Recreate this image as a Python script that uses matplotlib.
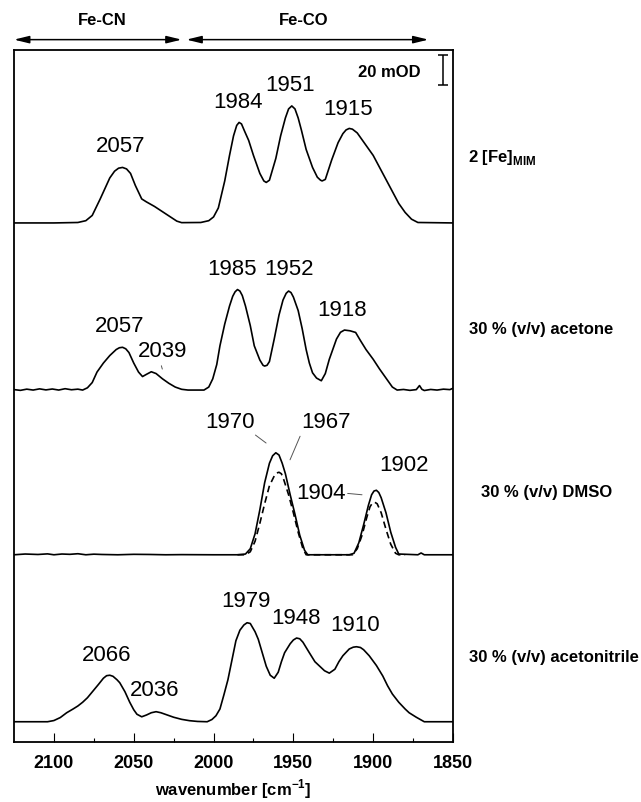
import matplotlib
matplotlib.use("Agg")
import matplotlib.pyplot as plt
import numpy as np

plt.rcParams['font.family'] = ['Liberation Sans', 'DejaVu Sans']
plt.rcParams['mathtext.fontset'] = 'custom'
plt.rcParams['mathtext.rm'] = 'Liberation Sans'
plt.rcParams['mathtext.bf'] = 'Liberation Sans:bold'

# --- spectra: wavenumber [cm-1], absorbance [mOD] ---
mim_wn = [2125, 2100, 2085, 2080, 2076, 2071, 2065, 2062, 2059.5, 2057, 2054.5, 2052, 2049,
          2045, 2042, 2037, 2032, 2027, 2023, 2020, 2008, 2003, 2000, 1997, 1993, 1990,
          1987.5, 1985.5, 1984, 1982.5, 1980.5, 1978, 1975, 1971, 1968.5, 1967, 1965, 1961,
          1958, 1955, 1953, 1951, 1949, 1947, 1945, 1942, 1938, 1935, 1933, 1932, 1930,
          1926, 1922, 1919, 1917, 1915, 1913, 1910, 1908, 1904, 1900, 1896, 1892, 1888,
          1884, 1880, 1876, 1872, 1850]
mim_od = [0, 0, 0.3, 1.5, 5, 16, 30, 34.5, 36.5, 37, 36, 33, 25,
          16, 14, 11, 7.5, 4, 1.2, 0.2, 0.3, 1.5, 4, 10, 28, 45,
          58, 65, 67, 66, 61, 55, 45, 33, 28, 27, 28.5, 43,
          58, 70, 76, 78, 76, 70, 62, 49, 37, 30.5, 28.5, 28, 29,
          42, 53.5, 59.5, 62, 63, 62.5, 60, 57, 51, 45, 37,
          29, 21, 13, 7, 2.5, 0.3, 0]

acetone_wn = [2125, 2121, 2117, 2113, 2109, 2105, 2101, 2097, 2093, 2089, 2085, 2082, 2079,
              2076, 2073, 2069, 2065, 2061, 2059, 2057, 2055, 2053, 2050, 2047, 2044.5,
              2042, 2039, 2036, 2032, 2028, 2024, 2020, 2016, 2006, 2003, 2000.5, 1998,
              1996, 1993, 1990, 1988, 1986.5, 1985, 1983.5, 1982, 1980, 1977, 1974.5, 1971,
              1969, 1968, 1966.5, 1965, 1962, 1959, 1956.5, 1954.5, 1953, 1951.5, 1950,
              1947, 1944.5, 1942, 1940, 1938, 1935.5, 1932.5, 1930, 1927.5, 1925, 1923,
              1920.5, 1918, 1914.5, 1911, 1908, 1904.5, 1900, 1896, 1892, 1888, 1885, 1881,
              1877, 1873, 1871, 1869.5, 1868, 1864, 1860, 1856, 1852, 1850]
acetone_od = [0.3, -0.2, 0.6, 0.0, 0.8, 0.1, 0.7, 0.0, 0.9, 0.2, 0.6, 0.0, 1.5,
              5, 12, 18, 23, 27, 28.2, 28.5, 27.5, 25, 18, 12, 9,
              10.5, 12.2, 11, 7.5, 4.5, 2, 0.5, 0, 0, 2, 7.5, 17,
              29.5, 44, 56, 62.5, 65.5, 67, 66, 63, 56, 43, 29.5, 20,
              16.5, 16, 16.5, 19, 34, 50, 60, 64.5, 66, 65, 62,
              53, 41, 27, 18, 11.5, 8, 6.2, 11, 20.5, 28, 34,
              38.5, 40, 39.5, 38.4, 33, 27, 20.5, 14, 8, 2, 0, 0.4,
              -0.2, 0.3, 3, 0.5, -0.3, 0.4, 0, 0.6, 0.3, 1.2]

dmso_wn = [2125, 2118, 2110, 2104, 2100, 2095, 2090, 2085, 2080, 2075, 2070, 2060, 2050,
           2040, 2030, 2020, 2000, 1985, 1980, 1977, 1974, 1971, 1968, 1965, 1963, 1961,
           1959, 1957, 1955, 1952, 1949, 1946, 1943, 1941, 1915, 1912, 1909, 1906, 1903,
           1901, 1899.5, 1898, 1896.5, 1895, 1892, 1889, 1886, 1884, 1872, 1870, 1868, 1850]
dmso_od = [0, 0.5, 0.2, 0.6, 0, 0.5, 0.3, 0.7, 0, 0.4, 0.2, 0, 0.3,
           0.2, 0, 0.1, 0, 0, 0.5, 4, 14, 30, 48, 61, 66, 68,
           66.5, 61, 54, 40, 27, 13, 3, 0, 0, 1, 8, 20, 33,
           40, 42.5, 43, 41.5, 38, 28, 15, 5, 0.5, 0, 1.2, 0, 0]

# dashed DMSO trace
dmso2_wn = [1985, 1980, 1977, 1974, 1971, 1968, 1965, 1962, 1960.5, 1959, 1957.5, 1956, 1953,
            1950, 1947, 1944, 1942, 1913, 1910, 1907, 1904, 1902, 1900.5, 1899, 1897.5, 1895,
            1892, 1889, 1886, 1884, 1880]
dmso2_od = [0, 0, 2, 9, 21, 34, 46, 52.5, 54.5, 55, 54, 50, 40,
            28, 15, 4, 0, 0, 4, 13, 25, 32, 34.5, 35, 34, 28,
            17, 7, 1, 0, 0]

acn_wn = [2125, 2104, 2100, 2096, 2092, 2088, 2085, 2082, 2079, 2075.5, 2072, 2069, 2067,
          2065, 2063, 2060.5, 2058.75, 2055.5, 2052.5, 2050, 2048, 2045, 2042, 2039, 2036,
          2033, 2029, 2025, 2020, 2015, 2010, 2004, 2001, 1998.5, 1996, 1993.5, 1991,
          1988.5, 1986, 1983.5, 1981, 1979, 1977, 1974, 1972, 1969.5, 1967, 1964.5, 1962,
          1959.5, 1957.5, 1955.5, 1952, 1950, 1948, 1946, 1944, 1940, 1936.5, 1933.5,
          1930.5, 1927.5, 1924, 1921.5, 1919, 1915, 1912.5, 1910.5, 1908, 1906, 1902.5,
          1898, 1894, 1891, 1888, 1884, 1880, 1877.5, 1873, 1868, 1850]
acn_od = [0, 0, 0.8, 2.8, 6, 8.5, 10.5, 13, 16, 20.5, 25, 29, 30.7,
          31, 30.3, 28, 26, 20, 13, 8, 5, 3.3, 4.5, 6, 6.7,
          6, 4.5, 3, 1.6, 0.7, 0.2, 0, 1.5, 4, 8.5, 18, 28,
          41, 54, 61, 64.5, 66, 65.5, 60, 55, 46, 37, 31, 29,
          33, 40, 46, 52, 54.5, 55.8, 55.3, 53, 46, 40, 37,
          34, 32.4, 35, 40, 44, 48.5, 49.7, 50, 49.5, 48, 44,
          37.5, 30.5, 24, 18.5, 13, 8.5, 6, 3, 0, 0]

offsets = [332.5, 221.1, 111.3, 0]   # vertical stacking, mOD
sample_labels = [r'2 [Fe]$_{\mathbf{MIM}}$', '30 % (v/v) acetone',
                 '30 % (v/v) DMSO', '30 % (v/v) acetonitrile']
label_x = [1.034, 1.036, 1.064, 1.036]
label_y = [44, 40.7, 42.5, 43.8]

fig = plt.figure(figsize=(6.41, 8.03), dpi=100)
ax = fig.add_axes([0.02184, 0.0751, 0.6849, 0.8618])

spectra = [(mim_wn, mim_od), (acetone_wn, acetone_od), (dmso_wn, dmso_od), (acn_wn, acn_od)]
for (wn, od), off in zip(spectra, offsets):
    ax.plot(wn, np.array(od) + off, color='black', lw=1.2, solid_joinstyle='round')
ax.plot(dmso2_wn, np.array(dmso2_od) + offsets[2], color='black', lw=1.2, ls=(0, (4, 2.5)))

for txt, lx, ly, off in zip(sample_labels, label_x, label_y, offsets):
    ax.text(lx, ly + off, txt, transform=ax.get_yaxis_transform(), ha='left', va='center',
            fontsize=12, fontweight='bold', clip_on=False)

# peak labels (text, wavenumber, height above panel baseline)
peak_font = dict(fontsize=16, ha='center', va='center')
peaks = [
    (0, '2057', 2058.3, 51.5), (0, '1984', 1984.8, 81), (0, '1951', 1952.1, 92), (0, '1915', 1916, 76),
    (1, '2057', 2058.75, 42.9), (1, '2039', 2032.1, 26.2), (1, '1985', 1988.6, 80.7),
    (1, '1952', 1952.9, 80.7), (1, '1918', 1919.4, 54),
    (2, '1970', 1990, 88.7), (2, '1967', 1929.6, 88.7), (2, '1902', 1881, 60.5), (2, '1904', 1932.7, 41.6),
    (3, '2066', 2067, 45.1), (3, '2036', 2036.9, 21.3), (3, '1979', 1979.6, 80.7),
    (3, '1948', 1948.3, 69.6), (3, '1910', 1911.25, 64.5),
]
for p, txt, x, y in peaks:
    ax.text(x, y + offsets[p], txt, **peak_font)

# thin leader lines
leaders = [(1, 2032.7, 16.2, 2032.1, 14.0),
           (2, 1973.75, 79.8, 1967.1, 74.5),
           (2, 1945.8, 79.0, 1952.1, 63.3),
           (2, 1916.0, 40.9, 1907.0, 40.0)]
for p, x1, y1, x2, y2 in leaders:
    ax.annotate('', xy=(x2, y2 + offsets[p]), xytext=(x1, y1 + offsets[p]),
                arrowprops=dict(arrowstyle='-', color='#555555', lw=0.7, shrinkA=0, shrinkB=0))

# scale bar
ax.errorbar([1856], [434.6], yerr=[10], color='black', lw=1.1, capsize=3.3, capthick=1.1)
ax.text(1889.6, 433.6, '20 mOD', fontsize=12, fontweight='bold', ha='center', va='center')

# region arrows above the frame
trans = ax.get_xaxis_transform()
for x1, x2, name, xc in [(2125, 2020, 'Fe-CN', 2070), (2017, 1865.4, 'Fe-CO', 1943.4)]:
    ax.annotate('', xy=(x2, 1.0145), xytext=(x1, 1.0145), xycoords=trans, textcoords=trans,
                arrowprops=dict(arrowstyle='<|-|>,head_length=0.9,head_width=0.22',
                                color='black', lw=1.1, shrinkA=0, shrinkB=0))
    ax.text(xc, 1.0434, name, transform=trans, ha='center', va='center',
            fontsize=12, fontweight='bold')

ax.set_xlim(2125, 1850)
ax.set_ylim(-13.3, 448)
ax.set_yticks([])
ax.set_xticks([2100, 2050, 2000, 1950, 1900, 1850])
ax.set_xticks([2075, 2025, 1975, 1925, 1875], minor=True)
ax.tick_params(axis='x', which='major', direction='in', length=6.7, width=0.8,
               labelsize=13, pad=9)
ax.tick_params(axis='x', which='minor', direction='in', length=3, width=0.8)
for lab in ax.get_xticklabels():
    lab.set_fontweight('bold')
for s in ax.spines.values():
    s.set_linewidth(1.3)
ax.set_xlabel('wavenumber [cm$^{\\mathregular{-1}}$]', fontsize=12, fontweight='bold', labelpad=4)

fig.savefig('out.png', dpi=100)
